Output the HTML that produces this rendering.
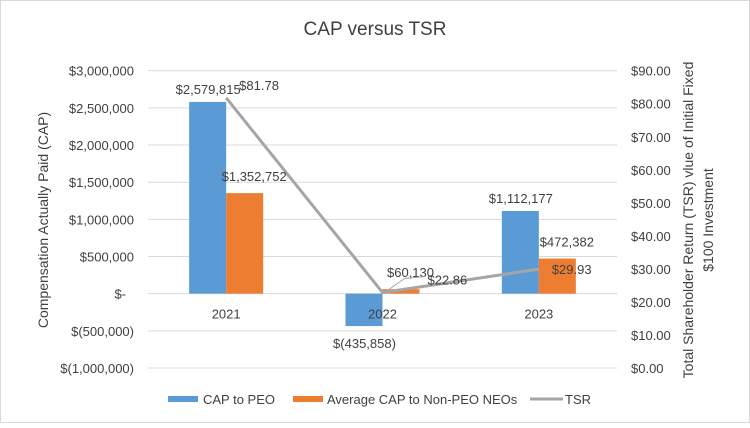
<!DOCTYPE html>
<html><head><meta charset="utf-8"><style>
body{margin:0;background:#fff}
svg text{font-family:"Liberation Sans Narrow","Liberation Sans",sans-serif;fill:#404040}
</style></head><body>
<svg width="750" height="423" xmlns="http://www.w3.org/2000/svg">
<rect x="0.5" y="0.5" width="749" height="422" fill="#fff" stroke="#d9d9d9"/>
<text x="375" y="35" text-anchor="middle" font-size="19">CAP versus TSR</text>
<g id="grid"></g><g id="bars"></g><g id="line"></g><g id="labels"></g>
<text transform="translate(48,220) rotate(-90)" text-anchor="middle" font-size="14">Compensation Actually Paid (CAP)</text>
<text transform="translate(693,220) rotate(-90)" text-anchor="middle" font-size="14">Total Shareholder Return (TSR) vlue of Initial Fixed</text>
<text transform="translate(713,220) rotate(-90)" text-anchor="middle" font-size="14">$100 Investment</text>
<g>
<rect x="168" y="396" width="30" height="6" fill="#5b9bd5"/>
<text x="203" y="404" font-size="13">CAP to PEO</text>
<rect x="293" y="396" width="30" height="6" fill="#ed7d31"/>
<text x="327" y="404" font-size="13">Average CAP to Non-PEO NEOs</text>
<line x1="530" y1="399" x2="563" y2="399" stroke="#a5a5a5" stroke-width="3"/>
<text x="565" y="404" font-size="13">TSR</text>
</g>
</svg>
<script>
const categories=["2021","2022","2023"];
const capPeo=[2579815,-435858,1112177];
const capNeo=[1352752,60130,472382];
const tsr=[81.78,22.86,29.93];
const leftTicks=[3000000,2500000,2000000,1500000,1000000,500000,0,-500000,-1000000];
const leftTickLabels=["$3,000,000","$2,500,000","$2,000,000","$1,500,000","$1,000,000","$500,000","$-","$(500,000)","$(1,000,000)"];
const rightTicks=[90,80,70,60,50,40,30,20,10,0];
const capPeoLabels=["$2,579,815","$(435,858)","$1,112,177"];
const capNeoLabels=["$1,352,752","$60,130","$472,382"];
const tsrLabels=["$81.78","$22.86","$29.93"];
(function(){
const NS="http://www.w3.org/2000/svg";
const plotTop=70.7,plotBot=368,L=148,R=617;
const yL=v=>plotTop+(3000000-v)/4000000*(plotBot-plotTop);
const yR=v=>plotTop+(90-v)/90*(plotBot-plotTop);
const cw=(R-L)/categories.length;
const xC=i=>L+cw*(i+0.5);
const bw=37;
function mk(tag,attrs,parent,txt){const e=document.createElementNS(NS,tag);for(const k in attrs)e.setAttribute(k,attrs[k]);if(txt!==undefined)e.textContent=txt;document.getElementById(parent).appendChild(e);return e;}
leftTicks.forEach((t,i)=>{
 const g=mk('line',{x1:L,x2:R,y1:yL(t),y2:yL(t),stroke:'#d9d9d9','stroke-width':1},'grid');
 
 
 const tx=mk('text',{x:t===0?126:134,y:yL(t)+5,'text-anchor':'end','font-size':13},'grid',leftTickLabels[i]);
 
 
});
rightTicks.forEach(t=>{
 const tx=mk('text',{x:631,y:yR(t)+5,'font-size':13},'grid','$'+t.toFixed(2));
 
 
});
categories.forEach((c,i)=>{
 const x=xC(i);
 const v1=capPeo[i],v2=capNeo[i];
 const b1=mk('rect',{x:x-bw,y:Math.min(yL(v1),yL(0)),width:bw,height:Math.abs(yL(v1)-yL(0)),fill:'#5b9bd5'},'bars');
 
 
 const b2=mk('rect',{x:x,y:Math.min(yL(v2),yL(0)),width:bw,height:Math.abs(yL(v2)-yL(0)),fill:'#ed7d31'},'bars');
 
 
 const cl=mk('text',{x:x,y:yL(0)+25,'text-anchor':'middle','font-size':13},'labels',c);
 
 
 const l1y=v1>=0?yL(v1)-8:yL(v1)+22;
 const l1=mk('text',{x:x-18,y:l1y,'text-anchor':'middle','font-size':13},'labels',capPeoLabels[i]);
 
 
 const l2=mk('text',{x:x+28,y:yL(v2)-12,'text-anchor':'middle','font-size':13},'labels',capNeoLabels[i]);
 
 
 const l3=mk('text',{x:x+13+(i===1?32:0),y:yR(tsr[i])+(i===0?-8:i===1?-8:5),'font-size':13},'labels',tsrLabels[i]);
 
 
 if(i===1){
  const ld=mk('polyline',{points:(x+5)+','+(yR(tsr[i])-2)+' '+(x+22)+','+(yR(tsr[i])-14)+' '+(x+43)+','+(yR(tsr[i])-16),fill:'none',stroke:'#a5a5a5','stroke-width':1},'labels');
  
  
 }
});
const pl=mk('polyline',{points:tsr.map((v,i)=>xC(i)+','+yR(v)).join(' '),fill:'none',stroke:'#a5a5a5','stroke-width':3},'line');


})();
</script>
</body></html>
